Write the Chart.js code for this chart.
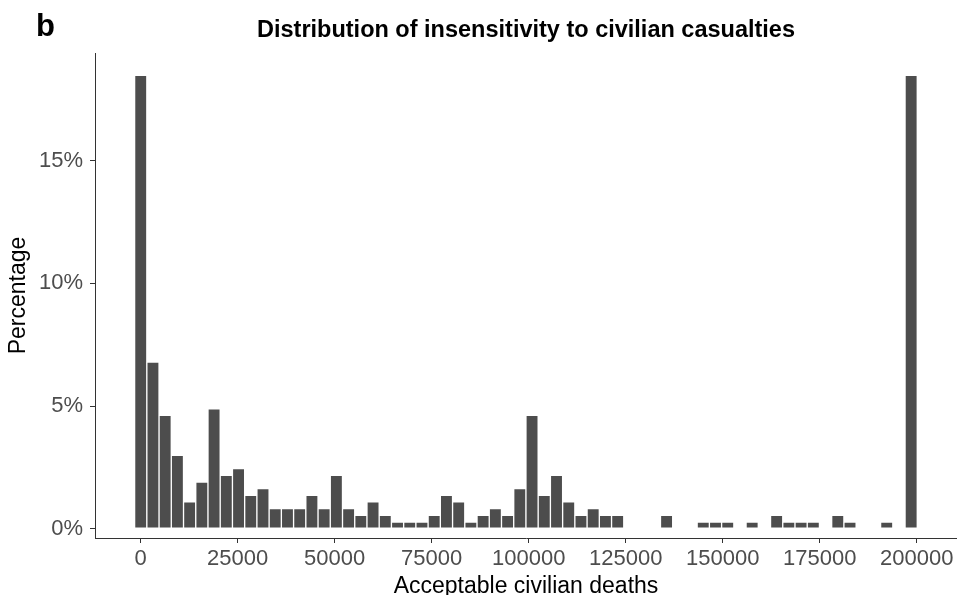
<!DOCTYPE html>
<html>
<head>
<meta charset="utf-8">
<script src="https://cdn.jsdelivr.net/npm/chart.js@4.4.1/dist/chart.umd.min.js"></script>
<style>
    html, body { margin: 0; padding: 0; background: #ffffff; }
    #wrap { width: 957px; height: 595px; }
</style>
</head>
<body>
<div id="wrap"><canvas id="histChart" width="957" height="595"></canvas></div>
<script>
// Histogram bins (width in deaths) and the share of respondents per bin, in %
const BIN_WIDTH = 3152;
const PERCENT = [
    18.48, 6.79, 4.62, 2.99, 1.09, 1.90, 4.89, 2.17, 2.45, 1.36,
    1.63, 0.82, 0.82, 0.82, 1.36, 0.82, 2.17, 0.82, 0.54, 1.09,
    0.54, 0.27, 0.27, 0.27, 0.54, 1.36, 1.09, 0.27, 0.54, 0.82,
    0.54, 1.63, 4.62, 1.36, 2.17, 1.09, 0.54, 0.82, 0.54, 0.54,
    0, 0, 0, 0.54, 0, 0, 0.27, 0.27, 0.27, 0,
    0.27, 0, 0.54, 0.27, 0.27, 0.27, 0, 0.54, 0.27, 0,
    0, 0.27, 0, 18.48
];
const BIN_CENTERS = PERCENT.map((_, i) => i * BIN_WIDTH);

// Axis ticks
const X_TICKS = [0, 25000, 50000, 75000, 100000, 125000, 150000, 175000, 200000];
const Y_TICKS = [0, 5, 10, 15];

const FONT = "'Liberation Sans', Arial, sans-serif";
const BAR_GREY = '#4d4d4d';
const TICK_GREY = '#4d4d4d';
const AXIS_GREY = '#333333';

// Panel letter and title centred over the plot panel
const panelTitle = {
    id: 'panelTitle',
    afterDraw(chart) {
        const ctx = chart.ctx;
        const area = chart.chartArea;
        ctx.save();
        ctx.fillStyle = '#000000';
        ctx.textBaseline = 'alphabetic';
        ctx.textAlign = 'left';
        ctx.font = `bold 31px ${FONT}`;
        ctx.fillText('b', 36, 36);
        ctx.textAlign = 'center';
        ctx.font = `bold 23.5px ${FONT}`;
        ctx.fillText('Distribution of insensitivity to civilian casualties', (area.left + area.right) / 2, 37);
        ctx.restore();
    }
};

const ctx = document.getElementById('histChart').getContext('2d');

new Chart(ctx, {
    type: 'bar',
    data: {
        datasets: [{
            data: BIN_CENTERS.map((x, i) => ({ x: x, y: PERCENT[i] })),
            backgroundColor: BAR_GREY,
            borderColor: '#ffffff',
            borderWidth: 1,
            borderSkipped: false,
            barPercentage: 1,
            categoryPercentage: 1
        }]
    },
    options: {
        responsive: false,
        animation: false,
        devicePixelRatio: 1,
        layout: { padding: { top: 53, right: 0, bottom: 0, left: 0 } },
        plugins: {
            legend: { display: false },
            tooltip: { enabled: false }
        },
        scales: {
            x: {
                type: 'linear',
                min: -11783,
                max: 210390,
                offset: false,
                afterBuildTicks: s => { s.ticks = X_TICKS.map(v => ({ value: v })); },
                afterFit: s => { s.height = 57; },
                grid: { offset: false, drawOnChartArea: false, tickLength: 5, color: AXIS_GREY },
                border: { color: AXIS_GREY, width: 1 },
                ticks: {
                    color: TICK_GREY,
                    font: { family: FONT, size: 22 },
                    padding: 3,
                    maxRotation: 0,
                    autoSkip: false,
                    callback: v => String(v)
                },
                title: {
                    display: true,
                    text: 'Acceptable civilian deaths',
                    color: '#000000',
                    font: { family: FONT, size: 23, lineHeight: 1 },
                    padding: { top: 0, bottom: -3 }
                }
            },
            y: {
                min: -0.38,
                max: 19.39,
                afterBuildTicks: s => { s.ticks = Y_TICKS.map(v => ({ value: v })); },
                afterFit: s => { s.width = 95; },
                grid: { drawOnChartArea: false, tickLength: 5, color: AXIS_GREY },
                border: { color: AXIS_GREY, width: 1 },
                ticks: {
                    color: TICK_GREY,
                    font: { family: FONT, size: 22 },
                    padding: 7,
                    callback: v => v + '%'
                },
                title: {
                    display: true,
                    text: 'Percentage',
                    color: '#000000',
                    font: { family: FONT, size: 23, lineHeight: 1.2 },
                    padding: { top: 5, bottom: 0 }
                }
            }
        }
    },
    plugins: [panelTitle]
});
</script>
</body>
</html>
